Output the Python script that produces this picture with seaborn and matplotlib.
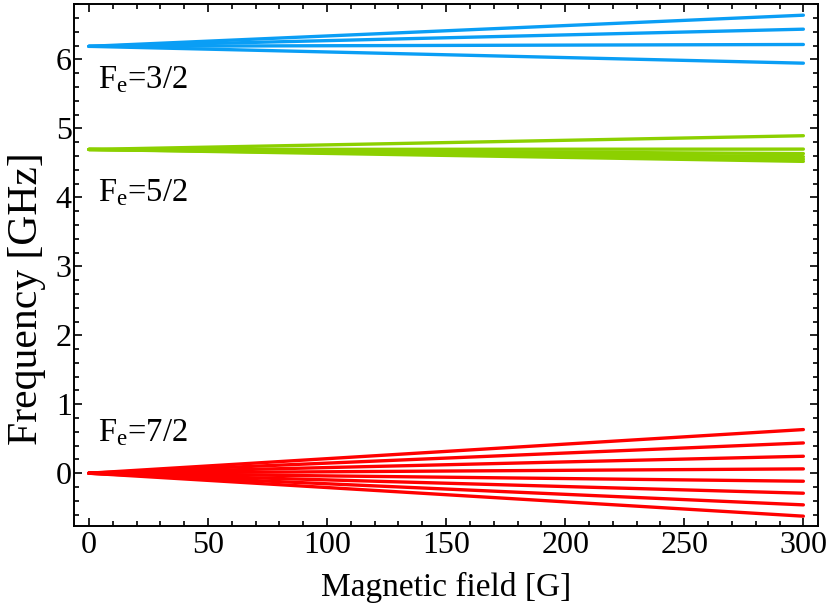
import numpy as np
import pandas as pd
import matplotlib
matplotlib.use("Agg")
import matplotlib.pyplot as plt
from matplotlib.ticker import MultipleLocator
import seaborn as sns

# Field range (G)
field_range = [0, 300]

# Zero-field frequencies of each hyperfine manifold (GHz)
manifolds = ["Fe=3/2", "Fe=5/2", "Fe=7/2"]
zero_field = [6.19, 4.695, 0.0]

# Frequencies of each Zeeman sublevel at 300 G (GHz)
end_32 = [6.642, 6.439, 6.217, 5.946]
end_52 = [4.894, 4.700, 4.635, 4.59, 4.555, 4.522]
end_72 = [0.633, 0.439, 0.246, 0.063, -0.116, -0.290, -0.459, -0.623]

labels = ["F$_{\\rm e}$=3/2", "F$_{\\rm e}$=5/2", "F$_{\\rm e}$=7/2"]
label_x = [3.8, 3.8, 3.8]
label_y = [5.70, 4.06, 0.58]

colors = ["#0A9EF5", "#8CD000", "#FF0000"]

rows = []
for name, f0, ends in zip(manifolds, zero_field, [end_32, end_52, end_72]):
    for k, f1 in enumerate(ends):
        rows.append({"manifold": name, "level": f"{name}-{k}", "B": field_range[0], "freq": f0})
        rows.append({"manifold": name, "level": f"{name}-{k}", "B": field_range[1], "freq": f1})
df = pd.DataFrame(rows)

sns.set_style("ticks")
plt.rcParams["font.family"] = ["Liberation Serif", "DejaVu Serif"]
plt.rcParams["mathtext.fontset"] = "custom"
plt.rcParams["mathtext.rm"] = "Liberation Serif"
plt.rcParams["mathtext.it"] = "Liberation Serif:italic"
plt.rcParams["text.color"] = "black"
plt.rcParams["axes.labelcolor"] = "black"
plt.rcParams["xtick.color"] = "black"
plt.rcParams["ytick.color"] = "black"
plt.rcParams["axes.edgecolor"] = "black"

fig, ax = plt.subplots(figsize=(8.3, 6.12), dpi=100)
fig.subplots_adjust(left=0.089, right=0.986, top=0.993, bottom=0.140)

sns.lineplot(data=df, x="B", y="freq", hue="manifold", units="level",
             estimator=None, palette=dict(zip(manifolds, colors)),
             linewidth=2.4, legend=False, ax=ax)

for t, x, y in zip(labels, label_x, label_y):
    ax.text(x, y, t, fontsize=23.5, va="center", ha="left")

ax.set_xlim(-6.3, 306.3)
ax.set_ylim(-0.77, 6.80)
ax.xaxis.set_major_locator(MultipleLocator(50))
ax.xaxis.set_minor_locator(MultipleLocator(10))
ax.yaxis.set_major_locator(MultipleLocator(1))
ax.yaxis.set_minor_locator(MultipleLocator(0.2))
ax.tick_params(which="both", direction="in", top=True, right=True, width=1.2)
ax.tick_params(which="major", length=6, labelsize=23)
ax.tick_params(which="minor", length=3.5)
ax.tick_params(axis="y", which="major", pad=1.5)
for s in ax.spines.values():
    s.set_linewidth(1.4)

ax.set_xlabel("Magnetic field [G]", fontsize=24)
ax.set_ylabel("Frequency [GHz]", fontsize=30)
ax.xaxis.set_label_coords(0.5, -0.088)
ax.yaxis.set_label_coords(-0.038, 0.437)

fig.savefig("out.png", dpi=100)
